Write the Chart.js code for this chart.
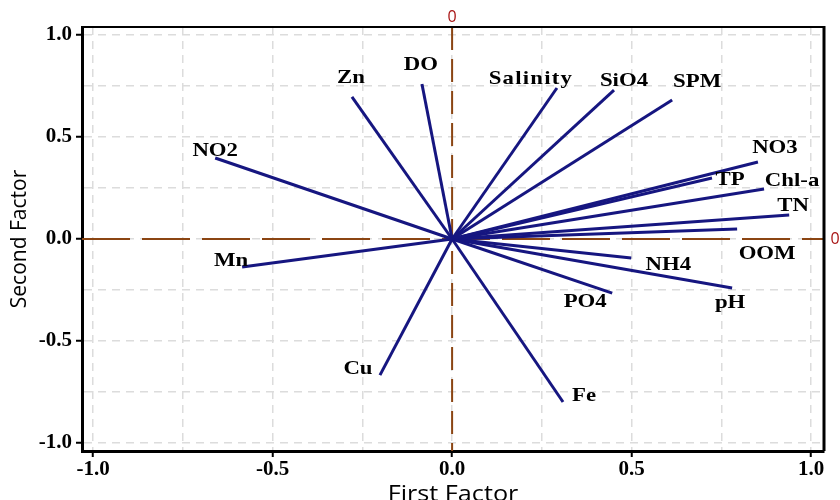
<!DOCTYPE html>
<html>
<head>
<meta charset="utf-8">
<script src="https://cdn.jsdelivr.net/npm/chart.js@4.4.0/dist/chart.umd.min.js"></script>
<style>
    html, body { margin: 0; padding: 0; background: #fff; }
    #wrap { width: 840px; height: 500px; position: relative; }
</style>
</head>
<body>
<div id="wrap"><canvas id="loadings"></canvas></div>
<script>
// factor loadings
const variables = ['NO2', 'Zn', 'DO', 'Salinity', 'SiO4', 'SPM', 'NO3', 'TP', 'Chl-a', 'TN', 'OOM', 'NH4', 'pH', 'PO4', 'Fe', 'Cu', 'Mn'];
const firstFactor = [-0.660, -0.279, -0.084, 0.292, 0.451, 0.613, 0.852, 0.724, 0.869, 0.939, 0.794, 0.499, 0.780, 0.446, 0.309, -0.201, -0.585];
const secondFactor = [0.397, 0.696, 0.760, 0.740, 0.730, 0.681, 0.377, 0.299, 0.245, 0.118, 0.049, -0.093, -0.240, -0.265, -0.799, -0.667, -0.137];

const xTicks = [-1.0, -0.5, 0.0, 0.5, 1.0];
const yTicks = [-1.0, -0.5, 0.0, 0.5, 1.0];

// where each name sits, in pixels, relative to the arrow tip
const labelOffsets = {
    'NO2': [0, -8], 'Zn': [-1, -20], 'DO': [-1, -20], 'Salinity': [-26, -11],
    'SiO4': [10, -11], 'SPM': [25, -20], 'NO3': [17, -16], 'TP': [18, 1],
    'Chl-a': [28, -10], 'TN': [4, -10], 'OOM': [30, 23], 'NH4': [37, 6],
    'pH': [-2, 14], 'PO4': [-27, 7], 'Fe': [21, -8], 'Cu': [-22, -8], 'Mn': [-11, -7]
};

const vectorColor = '#161680';
const zeroColor = '#8b4513';
const serif = '"Liberation Serif", "Times New Roman", serif';
const sans = '"Open Sans", "Noto Sans", sans-serif';

const isMajor = v => Math.abs(v * 2 - Math.round(v * 2)) < 1e-6;

const datasets = variables.map((name, i) => ({
    label: name,
    data: [{ x: 0, y: 0 }, { x: firstFactor[i], y: secondFactor[i] }],
    showLine: true,
    borderColor: vectorColor,
    borderWidth: 3,
    pointRadius: 0,
    pointHoverRadius: 0,
}));

const decorations = {
    id: 'decorations',
    beforeDatasetsDraw(chart) {
        const { ctx, chartArea: a, scales: { x, y } } = chart;
        const x0 = x.getPixelForValue(0);
        const y0 = y.getPixelForValue(0);
        ctx.save();
        ctx.strokeStyle = zeroColor;
        ctx.lineWidth = 2;
        ctx.setLineDash([48, 12]);
        ctx.beginPath();
        ctx.moveTo(a.left, y0);
        ctx.lineTo(a.right, y0);
        ctx.stroke();
        ctx.setLineDash([23, 9]);
        ctx.beginPath();
        ctx.moveTo(x0, a.top);
        ctx.lineTo(x0, a.bottom);
        ctx.stroke();
        ctx.restore();
    },
    afterDatasetsDraw(chart) {
        const { ctx, chartArea: a, scales: { x, y } } = chart;
        // variable names
        ctx.save();
        ctx.fillStyle = '#000';
        ctx.font = 'bold 19px ' + serif;
        ctx.textAlign = 'center';
        ctx.textBaseline = 'alphabetic';
        variables.forEach((name, i) => {
            const off = labelOffsets[name];
            const px = x.getPixelForValue(firstFactor[i]) + off[0];
            const py = y.getPixelForValue(secondFactor[i]) + off[1];
            ctx.save();
            ctx.translate(px, py);
            ctx.scale(1.2, 1);
            if (name === 'Salinity') ctx.letterSpacing = '1px';
            ctx.fillText(name, 0, 6.5);
            ctx.restore();
        });
        ctx.restore();

        // top and right frame
        ctx.save();
        ctx.strokeStyle = '#000';
        ctx.lineWidth = 2;
        ctx.beginPath();
        ctx.moveTo(a.left, a.top);
        ctx.lineTo(a.right, a.top);
        ctx.stroke();
        ctx.lineWidth = 3;
        ctx.beginPath();
        ctx.moveTo(a.right, a.top - 1);
        ctx.lineTo(a.right, a.bottom);
        ctx.stroke();
        ctx.restore();

        // zero markers
        ctx.save();
        ctx.fillStyle = '#a81414';
        ctx.font = '16px ' + sans;
        ctx.textAlign = 'center';
        ctx.textBaseline = 'middle';
        ctx.fillText('0', x.getPixelForValue(0), 17);
        ctx.fillText('0', 835, y.getPixelForValue(0));
        ctx.restore();

        // axis titles
        ctx.save();
        ctx.fillStyle = '#000';
        ctx.font = '21px ' + sans;
        ctx.textAlign = 'center';
        ctx.textBaseline = 'alphabetic';
        ctx.save();
        ctx.translate((a.left + a.right) / 2, 501);
        ctx.scale(1.2, 1);
        ctx.fillText('First Factor', 0, 0);
        ctx.restore();
        ctx.save();
        ctx.translate(26, (a.top + a.bottom) / 2);
        ctx.rotate(-Math.PI / 2);
        ctx.fillText('Second Factor', 0, 0);
        ctx.restore();
        ctx.restore();
    }
};

const axisStyle = (ticks) => ({
    type: 'linear',
    ticks: {
        stepSize: 0.25,
        includeBounds: false,
        autoSkip: false,
        maxRotation: 0,
        color: '#000',
        font: { family: serif, size: 21, weight: 'bold' },
        callback: v => ticks.some(t => Math.abs(t - v) < 1e-6) ? v.toFixed(1) : ''
    },
    grid: {
        color: '#dcdcdc',
        lineWidth: 1.5,
        drawTicks: true,
        tickLength: 6,
        tickWidth: 2,
        tickColor: c => isMajor(c.tick.value) ? '#000' : 'rgba(0,0,0,0)'
    },
    border: { display: true, color: '#000', width: 3, dash: [8, 6] }
});

const xScale = axisStyle(xTicks);
xScale.min = -1.031;
xScale.max = 1.036;
xScale.ticks.padding = 0;
xScale.afterFit = s => { s.height = 49; };

const yScale = axisStyle(yTicks);
yScale.min = -1.039;
yScale.max = 1.039;
yScale.ticks.padding = 4;
yScale.afterFit = s => { s.width = 82; };

new Chart(document.getElementById('loadings'), {
    type: 'scatter',
    data: { datasets },
    options: {
        responsive: true,
        maintainAspectRatio: false,
        animation: false,
        layout: { padding: { left: 0, right: 16, top: 27, bottom: 0 } },
        scales: { x: xScale, y: yScale },
        plugins: {
            legend: { display: false },
            tooltip: { enabled: false }
        }
    },
    plugins: [decorations]
});
</script>
</body>
</html>
